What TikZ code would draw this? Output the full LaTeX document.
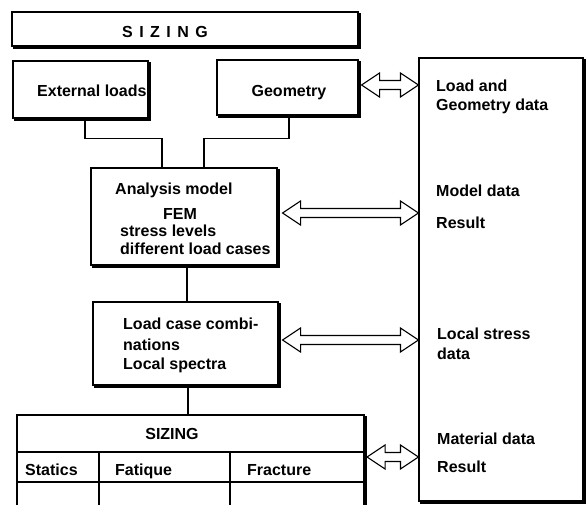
\documentclass[tikz,border=0pt]{standalone}
\usepackage{fontspec}
\setmainfont{Liberation Sans}
\usetikzlibrary{calc}

% hollow double-headed arrow between two points at the height of the first one
\newcommand\hollowarrow[2]{%
  \draw[arrowline] let \p1=(#1), \p2=(#2) in
    (\x1,\y1) -- (\x1+18pt,\y1+12pt) -- (\x1+18pt,\y1+4.5pt)
    -- (\x2-18pt,\y1+4.5pt) -- (\x2-18pt,\y1+12pt) -- (\x2,\y1)
    -- (\x2-18pt,\y1-12pt) -- (\x2-18pt,\y1-4.5pt)
    -- (\x1+18pt,\y1-4.5pt) -- (\x1+18pt,\y1-12pt) -- cycle;}

% heavy right and bottom edges of a box
\newcommand\heavyedge[1]{%
  \draw[shadowline] ([xshift=1pt,yshift=-3pt]#1.north east)
    -- ([xshift=1pt,yshift=-1pt]#1.south east)
    -- ([xshift=3pt,yshift=-1pt]#1.south west);}

\tikzset{
  box/.style={draw, rectangle, line width=1.1pt, fill=white, inner sep=0pt},
  shadowline/.style={line width=3pt, line cap=rect},
  lbl/.style={inner sep=0pt, anchor=base west, font=\bfseries\fontsize{16}{19}\selectfont},
  clbl/.style={lbl, anchor=base},
  wire/.style={line width=1.1pt},
  arrowline/.style={line width=1.1pt, fill=white, line join=miter},
}

\begin{document}
\begin{tikzpicture}[x=1pt, y=-1pt]
\useasboundingbox (0,0) rectangle (587,504);
\fill[white] (0,0) rectangle (587,504);
\clip (0,0) rectangle (587,504);

% boxes
\node[box, minimum width=346pt, minimum height=34pt] (top) at (185,29) {};
\node[box, minimum width=135pt, minimum height=57pt] (ext) at (80.5,89.5) {};
\node[box, minimum width=141pt, minimum height=55pt] (geo) at (287.5,87.5) {};
\node[box, minimum width=164pt, minimum height=443pt] (big) at (501,279.5) {};
\node[box, minimum width=186pt, minimum height=97pt] (ana) at (184,216.5) {};
\node[box, minimum width=185pt, minimum height=83pt] (lcc) at (185.5,343.5) {};
\node[box, minimum width=347pt, minimum height=100pt] (sizt) at (190.5,465) {};
\heavyedge{top}
\heavyedge{ext}
\heavyedge{geo}
\heavyedge{big}
\heavyedge{ana}
\heavyedge{lcc}
\heavyedge{sizt}

% table rules of the sizing block
\coordinate (hrow) at (0,452);
\coordinate (lrow) at (0,482);
\coordinate (colA) at (99,0);
\coordinate (colB) at (230,0);
\draw[wire] (sizt.west |- hrow) -- (sizt.east |- hrow);
\draw[wire] (sizt.west |- lrow) -- (sizt.east |- lrow);
\draw[wire] (colA |- hrow) -- (colA |- sizt.south);
\draw[wire] (colB |- hrow) -- (colB |- sizt.south);

% labels
\node[clbl] (tl) at (165,37) {S\hspace{6.5pt}I\hspace{6.5pt}Z\hspace{6.5pt}I\hspace{6.5pt}N\hspace{6.5pt}G};
\node[lbl] (el) at (37,96) {External loads};
\node[clbl] (gl) at (289,96) {Geometry};

\node[lbl] (b1) at (436,91) {Load and};
\node[lbl] (b2) at (436,110) {Geometry data};
\node[lbl] (b3) at (436,196) {Model data};
\node[lbl] (b4) at (436,228) {Result};
\node[lbl] (b5) at (437,339) {Local stress};
\node[lbl] (b6) at (437,359) {data};
\node[lbl] (b7) at (437,444) {Material data};
\node[lbl] (b8) at (437,472) {Result};

\node[lbl] (a1) at (115,194) {Analysis model};
\node[clbl] (a2) at (180,219) {FEM};
\node[lbl] (a3) at (120,236) {stress levels};
\node[lbl] (a4) at (120,254) {different load cases};

\node[lbl] (c1) at (123,329) {Load case combi-};
\node[lbl] (c2) at (123,350) {nations};
\node[lbl] (c3) at (123,369) {Local spectra};

\node[clbl] (s0) at (172,439) {SIZING};
\node[lbl] (s1) at (25,475) {Statics};
\node[lbl] (s2) at (115,475) {Fatique};
\node[lbl] (s3) at (247,475) {Fracture};

% connectors
\draw[wire] ([xshift=4.5pt]ext.south) -- ++(0,20) -| ([xshift=-22pt]ana.north);
\draw[wire] ([xshift=1.5pt]geo.south) -- ++(0,23) -| ([xshift=20pt]ana.north);
\draw[wire] ([xshift=3pt]ana.south) -- ([xshift=3pt]ana.south |- lcc.north);
\draw[wire] ([xshift=2.5pt]lcc.south) -- ([xshift=2.5pt]lcc.south |- sizt.north);

% data exchange arrows
\coordinate (g1) at ([xshift=3pt,yshift=2.5pt]geo.east);
\coordinate (g2) at (big.west |- g1);
\coordinate (m1) at ([xshift=5pt,yshift=3.5pt]ana.east);
\coordinate (m2) at (big.west |- m1);
\coordinate (l1) at ([xshift=4pt,yshift=3.5pt]lcc.east);
\coordinate (l2) at (big.west |- l1);
\coordinate (z1) at ([xshift=2.5pt,yshift=8pt]sizt.east);
\coordinate (z2) at (big.west |- z1);
\hollowarrow{g1}{g2}
\hollowarrow{m1}{m2}
\hollowarrow{l1}{l2}
\hollowarrow{z1}{z2}
\end{tikzpicture}
\end{document}
